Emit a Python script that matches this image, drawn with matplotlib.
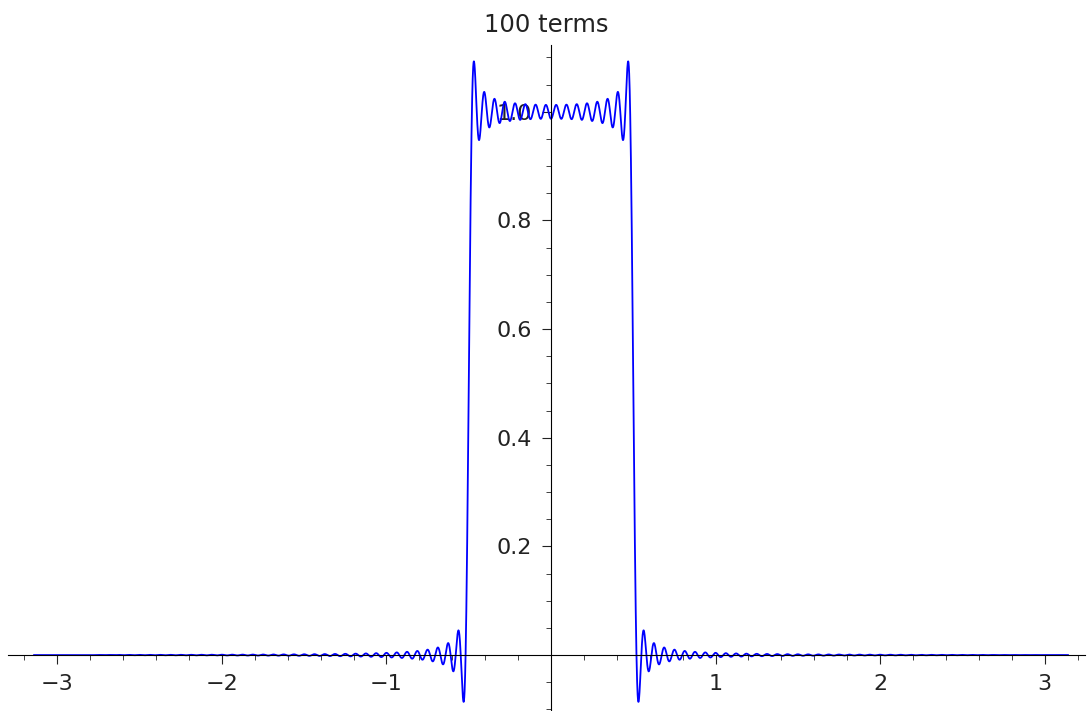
import numpy as np
import matplotlib
matplotlib.use("Agg")
import matplotlib.pyplot as plt
from matplotlib.ticker import MultipleLocator, FixedLocator

# Fourier series of a unit pulse on |x| < half_width, period 2*pi
n_terms = 100
half_width = 0.5
title = "100 terms"
x_ticks = [-3, -2, -1, 1, 2, 3]
y_ticks = [0.2, 0.4, 0.6, 0.8, 1.0]

x = np.linspace(-np.pi, np.pi, 6000)
y = np.full_like(x, half_width / np.pi)
for n in range(1, n_terms + 1):
    y += 2 * np.sin(n * half_width) / (n * np.pi) * np.cos(n * x)

fig = plt.figure(figsize=(10.89, 7.11), dpi=100)
ax = fig.add_axes([8 / 1089, 0, 1077 / 1089, 666 / 711])
ax.plot(x, y, color="blue", lw=1.3)

ax.set_xlim(-3.30, 3.245)
ax.set_ylim(-0.103, 1.123)

ax.spines["left"].set_position(("data", 0))
ax.spines["bottom"].set_position(("data", 0))
ax.spines["right"].set_visible(False)
ax.spines["top"].set_visible(False)

ax.xaxis.set_major_locator(FixedLocator(x_ticks))
ax.xaxis.set_minor_locator(MultipleLocator(0.2))
ax.yaxis.set_major_locator(FixedLocator(y_ticks))
ax.yaxis.set_minor_locator(MultipleLocator(0.05))
ax.set_xticklabels(["\u2212" + str(-t) if t < 0 else str(t) for t in x_ticks])
ax.set_yticklabels([f"{t:.1f}" for t in y_ticks])
ax.tick_params(which="major", labelsize=16, length=6.5, pad=7, color="#222222",
               labelcolor="#222222")
ax.tick_params(which="minor", length=3.5, color="#222222")

ax.set_title(title, fontsize=17.5, pad=9.5, color="#222222")

fig.savefig("out.png", dpi=100)
